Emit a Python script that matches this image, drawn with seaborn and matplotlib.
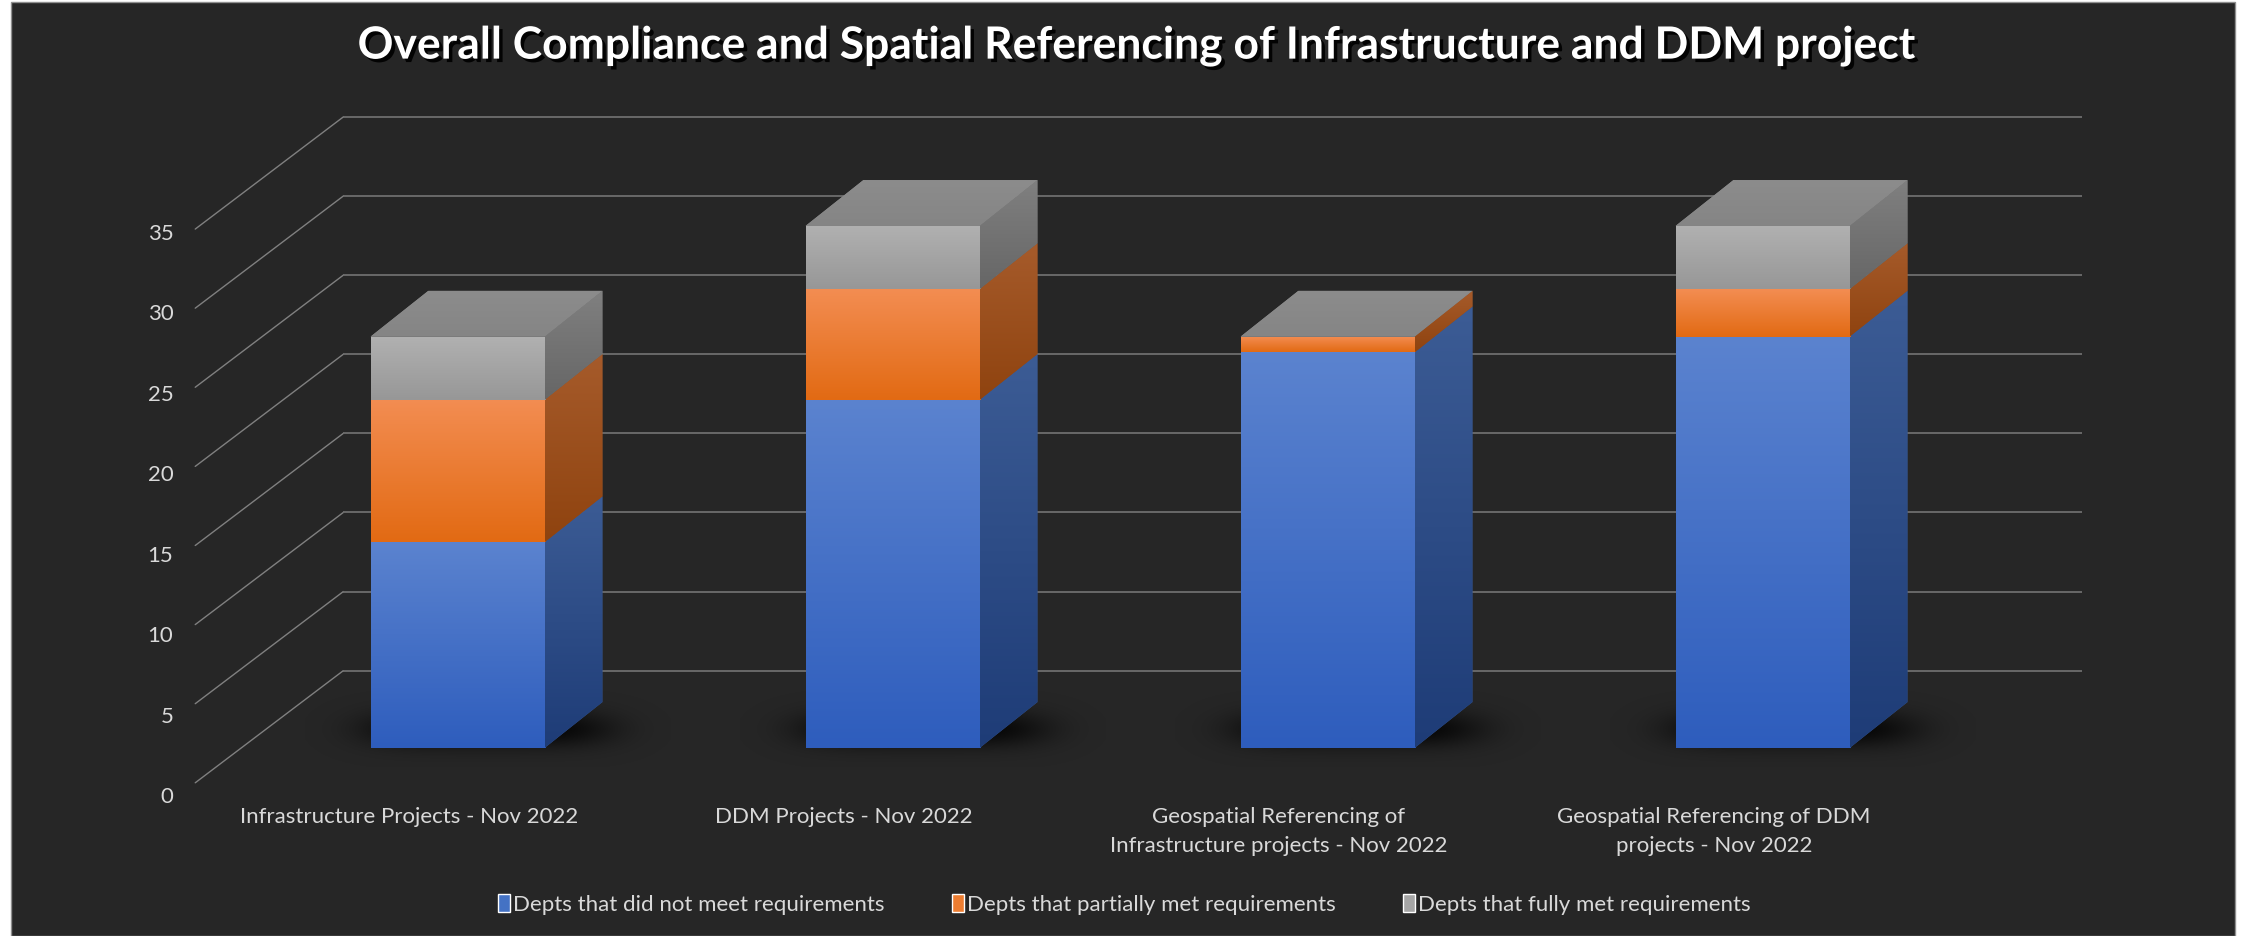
import numpy as np
import pandas as pd
import matplotlib
matplotlib.use("Agg")
import matplotlib.pyplot as plt
import seaborn as sns
from matplotlib.patches import Polygon, Rectangle, Patch
from matplotlib import patheffects as pe
from matplotlib.transforms import ScaledTranslation
from matplotlib.colors import to_rgb

# ---------------- data ----------------
categories = [
    "Infrastructure Projects - Nov 2022",
    "DDM Projects - Nov 2022",
    "Geospatial Referencing of\nInfrastructure projects - Nov 2022",
    "Geospatial Referencing of DDM\nprojects - Nov 2022",
]
not_met = [13, 22, 25, 26]
partial = [9, 7, 1, 3]
fully = [4, 4, 0, 4]
series_names = [
    "Depts that did not meet requirements",
    "Depts that partially met requirements",
    "Depts that fully met requirements",
]
y_ticks = [0, 5, 10, 15, 20, 25, 30, 35]
title = "Overall Compliance and Spatial Referencing of Infrastructure and DDM project"

# ---------------- style ----------------
sns.set_theme(style="ticks")
plt.rcParams["font.family"] = ["Lato", "DejaVu Sans"]

BG = "#262626"
TXT = "#D9D9D9"
GRID = "#6E6E6E"
SLANT = "#808080"
FS = 16
legend_cols = ["#4472C4", "#ED7D31", "#A5A5A5"]
front_cols = [("#5B83CF", "#2E5DBD"), ("#F38D52", "#E26A13"), ("#B1B1B1", "#979797")]
side_cols = [("#3C5C95", "#1E3C77"), ("#A65B2B", "#8F430F"), ("#808080", "#666666")]
top_col = ("#8C8C8C", "#858585")

W = 0.4          # bar width (category units)
DX, DY = 0.133, 2.9          # 3-D depth of the bars
BACK_DY = 4.89               # back wall offset
LINE_DY = -2.2               # front end of slanted grid lines
LINE_X0, BACK_X0, BACK_X1 = -0.603, -0.2625, 3.734

fig = plt.figure(figsize=(22.44, 9.36), dpi=100, facecolor="white")
fig.add_artist(Rectangle((11 / 2244, 0), 2224 / 2244, 934 / 936, transform=fig.transFigure,
                         facecolor=BG, edgecolor="#8F8F8F", lw=1, zorder=-10))
ax = fig.add_axes([0.0837, 0.1417, 0.8491, 0.7437])
ax.set_facecolor("none")

df = pd.DataFrame({"category": categories, "s0": not_met, "s1": partial, "s2": fully})
vals = df[["s0", "s1", "s2"]].to_numpy(dtype=float)
cum = np.cumsum(vals, axis=1)
lows = np.column_stack([np.zeros(len(df)), cum[:, :-1]])

layers = []
for k in range(3):
    n0 = len(ax.patches)
    sns.barplot(x=df["category"], y=cum[:, k], color=legend_cols[k], width=W,
                errorbar=None, ax=ax, linewidth=0, zorder=3)
    layers.append(list(ax.patches[n0:]))


def gradient(clip, extent, top, bot, z):
    t = np.linspace(0, 1, 256)[:, None]
    rgb = (1 - t) * np.array(to_rgb(top)) + t * np.array(to_rgb(bot))
    im = ax.imshow(rgb[:, None, :], extent=extent, origin="upper", aspect="auto",
                   interpolation="bilinear", zorder=z)
    im.set_clip_path(clip)


# stacked segments with 3-D faces
for k, patches in enumerate(layers):
    for i, p in enumerate(patches):
        b, t = lows[i, k], cum[i, k]
        p.set_y(b)
        p.set_height(t - b)
        x0, x1 = p.get_x(), p.get_x() + p.get_width()
        if t - b > 0:
            gradient(p, (x0, x1, b, t), *front_cols[k], 3.1)
            side = Polygon([(x1, b), (x1 + DX, b + DY), (x1 + DX, t + DY), (x1, t)],
                           closed=True, facecolor=side_cols[k][0], lw=0, zorder=3)
            ax.add_patch(side)
            gradient(side, (x1, x1 + DX, b, t + DY), *side_cols[k], 3.1)
        if k == len(layers) - 1:
            top = Polygon([(x0, t), (x0 + DX, t + DY), (x1 + DX, t + DY), (x1, t)],
                          closed=True, facecolor=top_col[0], lw=0, zorder=3)
            ax.add_patch(top)
            gradient(top, (x0, x1 + DX, t, t + DY), *top_col, 3.1)

# soft shadows beneath the bars
gx = np.linspace(-1, 1, 200)[None, :]
gy = np.linspace(-1, 1, 80)[:, None]
alpha = np.clip(np.exp(-((gx / 0.75) ** 4 + (gy / 0.6) ** 2) * 1.6), 0, 1) * 0.9
shadow = np.zeros((80, 200, 4))
shadow[..., 3] = alpha
for p in layers[0]:
    cx = p.get_x() + p.get_width() / 2 + 0.07
    ax.imshow(shadow, extent=(cx - 0.42, cx + 0.42, -1.2, 3.6), origin="upper",
              aspect="auto", interpolation="bilinear", zorder=2)

# 3-D grid: slanted side-wall lines and back-wall lines
for v in y_ticks:
    ax.plot([LINE_X0, BACK_X0], [v + LINE_DY, v + BACK_DY], color=SLANT, lw=1.0, zorder=1)
ax.hlines([v + BACK_DY for v in y_ticks], BACK_X0, BACK_X1, color=GRID, lw=1.3, zorder=1)

ax.set_xlim(-0.62, 3.76)
ax.set_ylim(-3.5, 40.5)
for s in ax.spines.values():
    s.set_visible(False)
ax.set_xlabel("")
ax.set_ylabel("")
ax.tick_params(axis="y", left=False, labelleft=False)
ax.tick_params(axis="x", length=0, pad=2.4, labelsize=FS, labelcolor=TXT)
for lbl in ax.get_xticklabels():
    lbl.set_linespacing(1.6)
    lbl.set_transform(lbl.get_transform() + ScaledTranslation(-0.486, 0, fig.dpi_scale_trans))

# value axis on the front edge of the side wall
sec = ax.secondary_yaxis(0, functions=(lambda p: (p + 2.97) * 0.983, lambda s: s / 0.983 - 2.97))
sec.set_yticks(y_ticks)
sec.tick_params(length=0, pad=10.4, labelsize=FS, labelcolor=TXT)
for s in sec.spines.values():
    s.set_visible(False)

fig.legend(handles=[Patch(facecolor=c, label=n) for c, n in zip(legend_cols, series_names)],
           loc="center", bbox_to_anchor=(0.501, 0.034), ncol=3, frameon=False, fontsize=FS,
           labelcolor=TXT, handlelength=0.55, handleheight=0.9, handletextpad=0.15,
           columnspacing=3.0)

fig.suptitle(title, x=0.507, y=0.951, va="center", fontsize=32, fontweight="bold", color="white",
             path_effects=[pe.SimplePatchShadow(offset=(2.5, -2.5), shadow_rgbFace="black", alpha=0.9),
                           pe.Normal()])

fig.savefig("out.png", dpi=100, facecolor=fig.get_facecolor())
